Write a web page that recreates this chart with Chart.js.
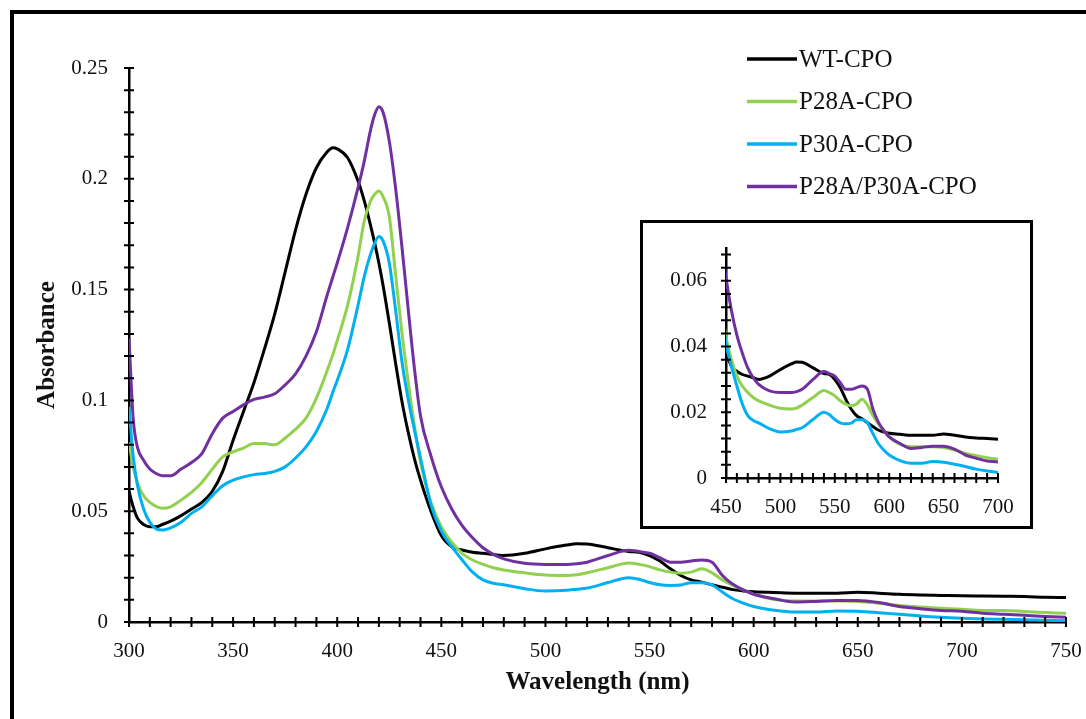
<!DOCTYPE html>
<html>
<head>
<meta charset="utf-8">
<script src="https://cdn.jsdelivr.net/npm/chart.js@4.4.1/dist/chart.umd.min.js"></script>
<style>
html,body{margin:0;padding:0;background:#fff;overflow:hidden;}
#wrap{position:relative;width:1086px;height:719px;overflow:hidden;background:#fff;}
#frame{position:absolute;left:10px;top:10px;width:1200px;height:900px;border:4px solid #000;}
#main{position:absolute;left:0;top:0;}
#insetBox{position:absolute;left:640px;top:220px;width:393px;height:309px;box-sizing:border-box;border:3px solid #000;background:#fff;}
#inset{position:absolute;left:643px;top:223px;}
</style>
</head>
<body>
<div id="wrap">
  <div id="frame"></div>
  <canvas id="main" width="1086" height="719" style="width:1086px;height:719px"></canvas>
  <div id="insetBox"></div>
  <canvas id="inset" width="387" height="303" style="width:387px;height:303px"></canvas>
</div>
<script>
// ---------------- DATA ----------------
const wavelengths = [
  300, 302, 304, 307, 310, 313, 316, 320, 325, 330, 335, 340,
  345, 350, 355, 360, 365, 370, 375, 380, 385, 390, 395, 398,
  400, 405, 410, 413, 416, 418, 420, 422, 425, 428, 431, 434,
  437, 440, 445, 450, 455, 460, 465, 470, 475, 480, 490, 500,
  510, 515, 520, 530, 540, 545, 550, 555, 560, 565, 570, 575,
  580, 585, 590, 595, 600, 610, 620, 630, 640, 650, 660, 670,
  680, 690, 700, 710, 720, 730, 740, 750
];
const wtCPO = [
  0.059, 0.052, 0.047, 0.044, 0.043, 0.043, 0.044, 0.0455, 0.048, 0.051, 0.054, 0.059,
  0.068, 0.082, 0.095, 0.108, 0.123, 0.139, 0.158, 0.177, 0.193, 0.205, 0.212, 0.214,
  0.2135, 0.2095, 0.199, 0.190, 0.179, 0.171, 0.162, 0.152, 0.135, 0.117, 0.100, 0.086,
  0.074, 0.064, 0.050, 0.039, 0.034, 0.0325, 0.0315, 0.031, 0.0305, 0.030, 0.031, 0.033,
  0.0347, 0.0353, 0.0352, 0.0335, 0.0318, 0.0315, 0.030, 0.0275, 0.024, 0.021, 0.019, 0.018,
  0.0168, 0.0157, 0.0146, 0.014, 0.0136, 0.0133, 0.013, 0.013, 0.013, 0.0134, 0.013, 0.0125,
  0.0122, 0.012, 0.0118, 0.0117, 0.0116, 0.0115, 0.0112, 0.011
];
const p28aCPO = [
  0.081, 0.070, 0.063, 0.057, 0.054, 0.0522, 0.0513, 0.052, 0.055, 0.0585, 0.063, 0.069,
  0.0745, 0.0768, 0.0785, 0.0806, 0.0805, 0.080, 0.083, 0.087, 0.092, 0.101, 0.113, 0.121,
  0.127, 0.143, 0.165, 0.181, 0.190, 0.193, 0.1945, 0.192, 0.183, 0.157, 0.131, 0.109,
  0.089, 0.072, 0.054, 0.043, 0.036, 0.031, 0.028, 0.026, 0.0245, 0.0235, 0.0222, 0.0212,
  0.021, 0.0213, 0.0222, 0.0245, 0.0266, 0.026, 0.025, 0.0235, 0.0225, 0.022, 0.0225, 0.024,
  0.0222, 0.019, 0.0165, 0.0145, 0.0125, 0.0102, 0.0095, 0.0095, 0.0095, 0.0093, 0.0085, 0.0075,
  0.0068, 0.0062, 0.0057, 0.0052, 0.0052, 0.0047, 0.0043, 0.0039
];
const p30aCPO = [
  0.097, 0.075, 0.062, 0.051, 0.045, 0.042, 0.0415, 0.0425, 0.045, 0.049, 0.052, 0.057,
  0.0615, 0.064, 0.0655, 0.0665, 0.067, 0.068, 0.070, 0.074, 0.079, 0.086, 0.096, 0.104,
  0.109, 0.123, 0.143, 0.156, 0.166, 0.171, 0.174, 0.172, 0.162, 0.141, 0.118, 0.101,
  0.087, 0.074, 0.053, 0.041, 0.034, 0.028, 0.0225, 0.019, 0.0175, 0.0168, 0.015, 0.014,
  0.0143, 0.0148, 0.0153, 0.0178, 0.020, 0.0193, 0.0178, 0.0168, 0.0165, 0.0167, 0.0177, 0.0177,
  0.0168, 0.0135, 0.0105, 0.0085, 0.007, 0.0053, 0.0045, 0.0045, 0.005, 0.0048, 0.0042, 0.0035,
  0.0027, 0.0021, 0.0017, 0.0014, 0.0012, 0.001, 0.0008, 0.0006
];
const p28aP30aCPO = [
  0.128, 0.092, 0.079, 0.073, 0.069, 0.067, 0.066, 0.066, 0.069, 0.072, 0.076, 0.085,
  0.092, 0.095, 0.098, 0.1005, 0.1015, 0.103, 0.107, 0.112, 0.120, 0.131, 0.147, 0.156,
  0.162, 0.178, 0.196, 0.208, 0.222, 0.229, 0.2325, 0.230, 0.217, 0.196, 0.170, 0.142,
  0.115, 0.093, 0.075, 0.061, 0.051, 0.0435, 0.038, 0.0335, 0.0305, 0.0285, 0.0265, 0.026,
  0.026, 0.0263, 0.027, 0.030, 0.0324, 0.0318, 0.031, 0.029, 0.027, 0.027, 0.0275, 0.028,
  0.027, 0.021, 0.017, 0.0145, 0.0125, 0.0105, 0.009, 0.0093, 0.0097, 0.0097, 0.0088, 0.007,
  0.006, 0.0052, 0.0049, 0.004, 0.0035, 0.003, 0.0025, 0.0021
];
const seriesLabels = ['WT-CPO', 'P28A-CPO', 'P30A-CPO', 'P28A/P30A-CPO'];
const seriesColors = ['#000000', '#92D050', '#00B0F0', '#7030A0'];
const mainXTickLabels = [300, 350, 400, 450, 500, 550, 600, 650, 700, 750];
const mainYTickLabels = [0, 0.05, 0.1, 0.15, 0.2, 0.25];
const insetXTickLabels = [450, 500, 550, 600, 650, 700];
const insetYTickLabels = [0, 0.02, 0.04, 0.06];
const xAxisTitle = 'Wavelength (nm)';
const yAxisTitle = 'Absorbance';

// ---------------- BUILD ----------------
const SERIF = '"Liberation Serif", "Times New Roman", serif';
const allSeries = [wtCPO, p28aCPO, p30aCPO, p28aP30aCPO];

function makeDatasets(width) {
  return allSeries.map((arr, i) => ({
    label: seriesLabels[i],
    data: wavelengths.map((w, k) => ({ x: w, y: arr[k] })),
    borderColor: seriesColors[i],
    backgroundColor: seriesColors[i],
    borderWidth: width,
    pointRadius: 0,
    cubicInterpolationMode: 'monotone',
    fill: false,
    order: 3 - i
  }));
}

function labelCb(list) {
  return function (v) {
    const hit = list.find(t => Math.abs(t - v) < 1e-9);
    return hit === undefined ? '' : String(hit);
  };
}

function crossTicks(xStep, yStep, len, lw) {
  return {
    id: 'crossTicks',
    afterDraw(chart) {
      const { ctx, scales: { x, y } } = chart;
      ctx.save();
      ctx.strokeStyle = '#000';
      ctx.lineWidth = lw;
      ctx.beginPath();
      for (let k = 0; ; k++) {
        const v = x.min + k * xStep;
        if (v > x.max + 1e-9) break;
        const px = x.getPixelForValue(v);
        ctx.moveTo(px, y.bottom - len);
        ctx.lineTo(px, y.bottom + len);
      }
      for (let k = 0; ; k++) {
        const v = y.min + k * yStep;
        if (v > y.max + 1e-9) break;
        const py = y.getPixelForValue(v);
        ctx.moveTo(x.left - len, py);
        ctx.lineTo(x.left + len, py);
      }
      ctx.stroke();
      ctx.restore();
    }
  };
}

const legendPlugin = {
  id: 'lineLegend',
  afterDraw(chart) {
    const ctx = chart.ctx;
    const rows = [59, 101.5, 144, 186.5];
    ctx.save();
    ctx.font = '25px ' + SERIF;
    ctx.textBaseline = 'middle';
    ctx.textAlign = 'left';
    chart.data.datasets.forEach((ds, i) => {
      ctx.strokeStyle = ds.borderColor;
      ctx.lineWidth = 3.5;
      ctx.beginPath();
      ctx.moveTo(747, rows[i]);
      ctx.lineTo(797, rows[i]);
      ctx.stroke();
      ctx.fillStyle = '#111';
      ctx.fillText(ds.label, 799, rows[i] + 1);
    });
    ctx.restore();
  }
};

new Chart(document.getElementById('main'), {
  type: 'line',
  data: { datasets: makeDatasets(3) },
  options: {
    responsive: false,
    animation: false,
    layout: { padding: { left: 0, top: 68, right: 20, bottom: 0 } },
    plugins: { legend: { display: false }, tooltip: { enabled: false } },
    scales: {
      x: {
        type: 'linear', min: 300, max: 750,
        grid: { display: false, drawTicks: false },
        border: { display: true, color: '#000', width: 2.5 },
        ticks: { stepSize: 50, autoSkip: false, maxRotation: 0, padding: 17, color: '#111',
                 font: { family: SERIF, size: 21 }, callback: labelCb(mainXTickLabels) },
        title: { display: true, text: xAxisTitle, color: '#111',
                 font: { family: SERIF, size: 25, weight: 'bold' }, padding: { top: 0, bottom: 21 } },
        afterFit(s) { s.height = 97; s.paddingLeft = 0; s.paddingRight = 0; }
      },
      y: {
        type: 'linear', min: 0, max: 0.25,
        grid: { display: false, drawTicks: false },
        border: { display: true, color: '#000', width: 2.5 },
        ticks: { stepSize: 0.05, autoSkip: false, padding: 21, color: '#111',
                 font: { family: SERIF, size: 21 }, callback: labelCb(mainYTickLabels) },
        title: { display: true, text: yAxisTitle, color: '#111',
                 font: { family: SERIF, size: 25, weight: 'bold' }, padding: { top: 33, bottom: 0 } },
        afterFit(s) { s.width = 129; s.paddingTop = 0; s.paddingBottom = 0; }
      }
    }
  },
  plugins: [crossTicks(10, 0.01, 5, 2), legendPlugin]
});

new Chart(document.getElementById('inset'), {
  type: 'line',
  data: { datasets: makeDatasets(3) },
  options: {
    responsive: false,
    animation: false,
    layout: { padding: { left: 0, top: 25, right: 32, bottom: 0 } },
    plugins: { legend: { display: false }, tooltip: { enabled: false } },
    scales: {
      x: {
        type: 'linear', min: 450, max: 700,
        grid: { display: false, drawTicks: false },
        border: { display: true, color: '#000', width: 2.5 },
        ticks: { stepSize: 50, autoSkip: false, maxRotation: 0, padding: 17, color: '#111',
                 font: { family: SERIF, size: 21 }, callback: labelCb(insetXTickLabels) },
        afterFit(s) { s.height = 48; s.paddingLeft = 0; s.paddingRight = 0; }
      },
      y: {
        type: 'linear', min: 0, max: 0.07,
        grid: { display: false, drawTicks: false },
        border: { display: true, color: '#000', width: 2.5 },
        ticks: { stepSize: 0.02, autoSkip: false, padding: 19, color: '#111',
                 font: { family: SERIF, size: 21 }, callback: labelCb(insetYTickLabels) },
        afterFit(s) { s.width = 83; s.paddingTop = 0; s.paddingBottom = 0; }
      }
    }
  },
  plugins: [crossTicks(10, 0.004, 5, 2)]
});
</script>
</body>
</html>
